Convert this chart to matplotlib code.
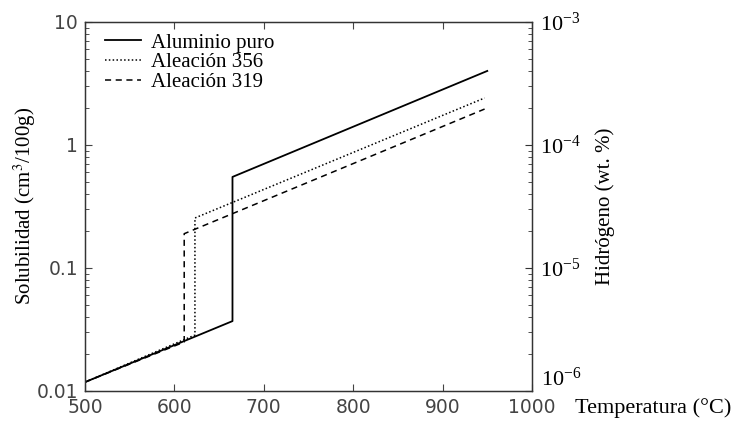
import numpy as np
import matplotlib
matplotlib.use("Agg")
import matplotlib.pyplot as plt
from matplotlib.ticker import LogLocator, FixedLocator, NullFormatter

# solubility curves (cm3/100g): break points only
al_T = [500, 665, 665, 950]
al_S = [0.0118, 0.037, 0.55, 4.0]
a356_T = [500, 623, 623, 947]
a356_S = [0.0118, 0.0285, 0.255, 2.41]
a319_T = [500, 611, 611, 947]
a319_S = [0.0118, 0.025, 0.19, 1.96]

labels = ["Aluminio puro", "Aleación 356", "Aleación 319"]
x_ticks = [500, 600, 700, 800, 900, 1000]
y_ticks = [0.01, 0.1, 1, 10]
y_ticklabels = ["0.01", "0.1", "1", "10"]
h_ticks = [1e-6, 1e-5, 1e-4, 1e-3]
h_ticklabels = [r"$\mathregular{10^{-6}}$", r"$\mathregular{10^{-5}}$",
                r"$\mathregular{10^{-4}}$", r"$\mathregular{10^{-3}}$"]

serif = "Liberation Serif"
plt.rcParams["mathtext.fontset"] = "stix"

fig = plt.figure(figsize=(7.5, 4.23), dpi=100)
ax = fig.add_axes([0.1133, 0.0757, 0.596, 0.8723])

ax.plot(al_T, al_S, color="black", lw=1.3, ls="-", label=labels[0])
ax.plot(a356_T, a356_S, color="black", lw=1.1, ls=(0, (1, 1.5)), label=labels[1])
ax.plot(a319_T, a319_S, color="black", lw=1.1, ls=(0, (4, 3)), label=labels[2])

ax.set_xlim(500, 1000)
ax.set_yscale("log")
ax.set_ylim(0.01, 10)
ax.xaxis.set_major_locator(FixedLocator(x_ticks))
ax.set_xticklabels([str(t) for t in x_ticks])
ax.yaxis.set_major_locator(FixedLocator(y_ticks))
ax.set_yticklabels(y_ticklabels)
ax.yaxis.set_minor_locator(LogLocator(base=10, subs=np.arange(2, 10)))
ax.yaxis.set_minor_formatter(NullFormatter())

for s in ax.spines.values():
    s.set_color("#333333")
    s.set_linewidth(1.0)

ax.tick_params(axis="both", which="major", direction="in", length=5,
               top=True, labelsize=13.5, colors="#444444", pad=5)
ax.tick_params(axis="y", which="minor", direction="in", length=3, color="#333333")
for lab in ax.get_xticklabels() + ax.get_yticklabels():
    lab.set_fontfamily("DejaVu Sans")

ax.set_ylabel("Solubilidad (cm$^3$/100g)", family=serif, fontsize=15)
ax.yaxis.set_label_coords(-0.105, 0.5)

# right axis: hydrogen content in wt. %
ax2 = ax.twinx()
ax2.set_yscale("log")
ax2.set_ylim(1e-6, 1e-3)
ax2.yaxis.set_major_locator(FixedLocator(h_ticks))
# lowest label sits a little above its tick in the original, drawn separately
ax2.set_yticklabels([""] + h_ticklabels[1:])
ax2.yaxis.set_minor_locator(LogLocator(base=10, subs=np.arange(2, 10)))
ax2.yaxis.set_minor_formatter(NullFormatter())
ax2.tick_params(axis="y", which="major", direction="in", length=5,
                labelsize=16, color="#333333", pad=6)
ax2.tick_params(axis="y", which="minor", direction="in", length=3, color="#333333")
for lab in ax2.get_yticklabels():
    lab.set_fontfamily(serif)
ax2.text(1.0 + 9 / 447, h_ticks[0], h_ticklabels[0], transform=ax2.get_yaxis_transform(),
         family=serif, fontsize=16, ha="left", va="bottom")
ax2.set_ylabel("Hidrógeno (wt. %)", family=serif, fontsize=15)
ax2.yaxis.set_label_coords(1.141, 0.5)
for s in ax2.spines.values():
    s.set_color("#333333")

ax.text(1.096, -0.046, "Temperatura (°C)", transform=ax.transAxes,
        family=serif, fontsize=16, ha="left", va="center")

leg = ax.legend(loc="upper left", frameon=False, prop={"family": serif, "size": 15},
                handlelength=1.7, handletextpad=0.5, labelspacing=0.0,
                borderpad=0, borderaxespad=0, bbox_to_anchor=(0.045, 0.97))

fig.savefig("out.png", dpi=100)
